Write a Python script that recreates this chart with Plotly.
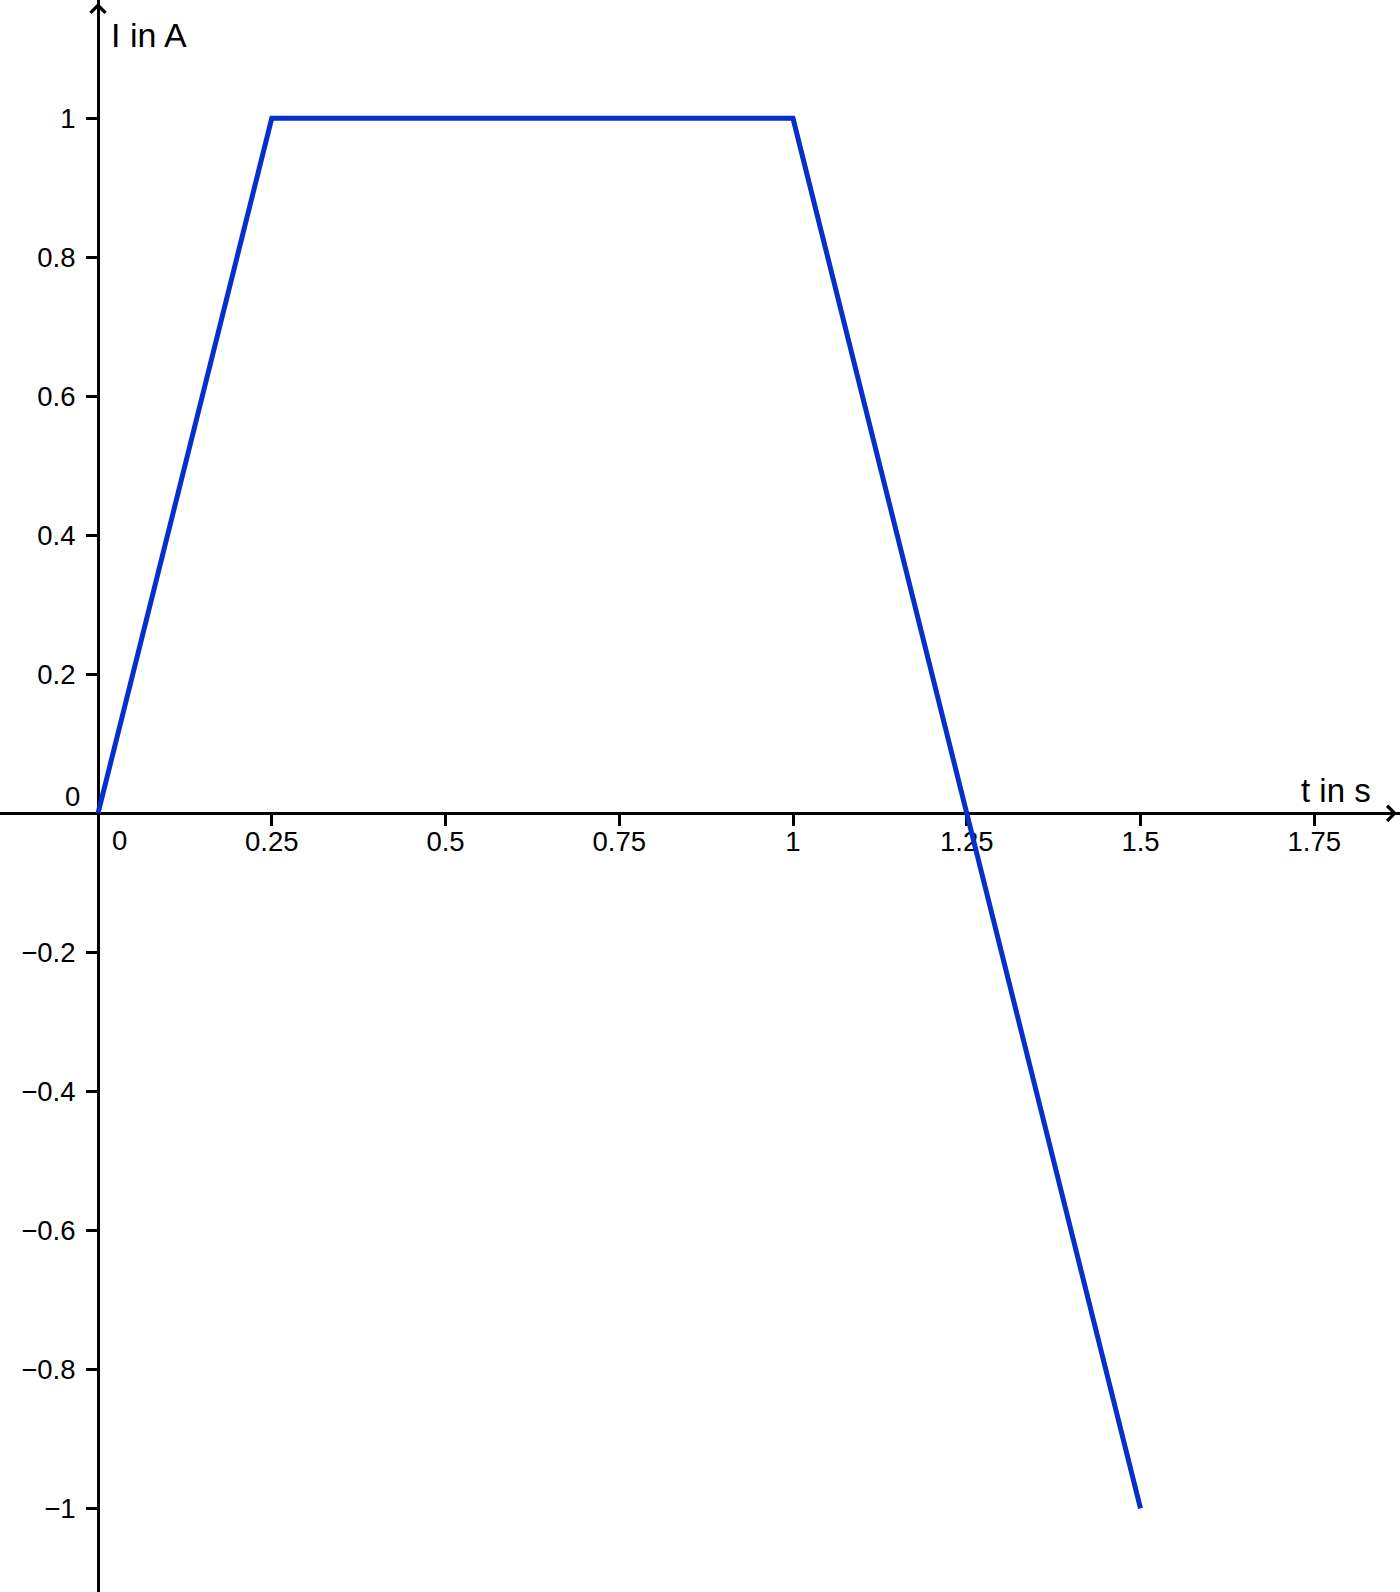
import plotly.graph_objects as go

# Data
t_values = [0, 0.25, 1, 1.5]
i_values = [0, 1, 1, -1]

x_ticks = [0.25, 0.5, 0.75, 1, 1.25, 1.5, 1.75]
x_tick_labels = ["0.25", "0.5", "0.75", "1", "1.25", "1.5", "1.75"]
y_ticks = [-1, -0.8, -0.6, -0.4, -0.2, 0.2, 0.4, 0.6, 0.8, 1]
y_tick_labels = ["\u22121", "\u22120.8", "\u22120.6", "\u22120.4", "\u22120.2", "0.2", "0.4", "0.6", "0.8", "1"]

x_title = "t in s"
y_title = "I in A"

W, H = 1400, 1592
ox, oy = 98.0, 813.3   # origin in pixels
scale = 695.0          # pixels per unit
x_range = [-ox / scale, (W - ox) / scale]
y_range = [-(H - oy) / scale, oy / scale]
x_pos = ox / W
y_pos = (H - oy) / H

FONT = "Liberation Sans, Arial, sans-serif"
BLUE = "#0530cc"
TICK_SIZE = 27.5

fig = go.Figure()
fig.add_trace(go.Scatter(x=t_values, y=i_values, mode="lines",
                         line=dict(color=BLUE, width=5), hoverinfo="skip",
                         showlegend=False, cliponaxis=False))

fig.update_layout(
    width=W, height=H, autosize=False,
    margin=dict(l=0, r=0, t=0, b=0),
    paper_bgcolor="white", plot_bgcolor="white",
    font=dict(family=FONT, color="black", size=TICK_SIZE),
    xaxis=dict(range=x_range, anchor="free", position=y_pos, side="bottom",
               showgrid=False, zeroline=False, showline=True, linecolor="black", linewidth=3,
               ticks="outside", ticklen=11, tickwidth=2.5, tickcolor="black",
               tickvals=x_ticks, ticktext=x_tick_labels, tickfont=dict(size=TICK_SIZE),
               ticklabelstandoff=-8,
               layer="below traces", fixedrange=True),
    yaxis=dict(range=y_range, anchor="free", position=x_pos, side="left",
               showgrid=False, zeroline=False, showline=True, linecolor="black", linewidth=3,
               ticks="outside", ticklen=11, tickwidth=2.5, tickcolor="black",
               tickvals=y_ticks, ticktext=y_tick_labels, tickfont=dict(size=TICK_SIZE),
               ticklabelstandoff=5,
               layer="below traces", fixedrange=True),
)

# Arrowheads on the axes
fig.add_annotation(x=(W - 3 - ox) / scale, y=0, xref="x", yref="y", ax=-30, ay=0,
                   showarrow=True, arrowhead=4, arrowsize=1.45, arrowwidth=2,
                   arrowcolor="black", text="", standoff=0)
fig.add_annotation(x=0, y=(oy - 3) / scale, xref="x", yref="y", ax=0, ay=30,
                   showarrow=True, arrowhead=4, arrowsize=1.45, arrowwidth=2,
                   arrowcolor="black", text="", standoff=0)

# Zero labels
fig.add_annotation(x=0, y=0, xref="x", yref="y", text="0", showarrow=False,
                   xanchor="left", yanchor="top", xshift=12, yshift=-10,
                   font=dict(size=TICK_SIZE, family=FONT))
fig.add_annotation(x=0, y=0, xref="x", yref="y", text="0", showarrow=False,
                   xanchor="right", yanchor="bottom", xshift=-16, yshift=-1,
                   font=dict(size=TICK_SIZE, family=FONT))

# Axis titles
fig.add_annotation(x=109 / W, y=1 - 35 / H, xref="paper", yref="paper", text=y_title,
                   showarrow=False, xanchor="left", yanchor="middle",
                   font=dict(size=34, family=FONT))
fig.add_annotation(x=1373 / W, y=1 - 790 / H, xref="paper", yref="paper", text=x_title,
                   showarrow=False, xanchor="right", yanchor="middle",
                   font=dict(size=33, family=FONT))

fig.write_html("out.html", config={"displayModeBar": False},
               post_script="document.body.style.margin='0';document.body.style.padding='0';")
